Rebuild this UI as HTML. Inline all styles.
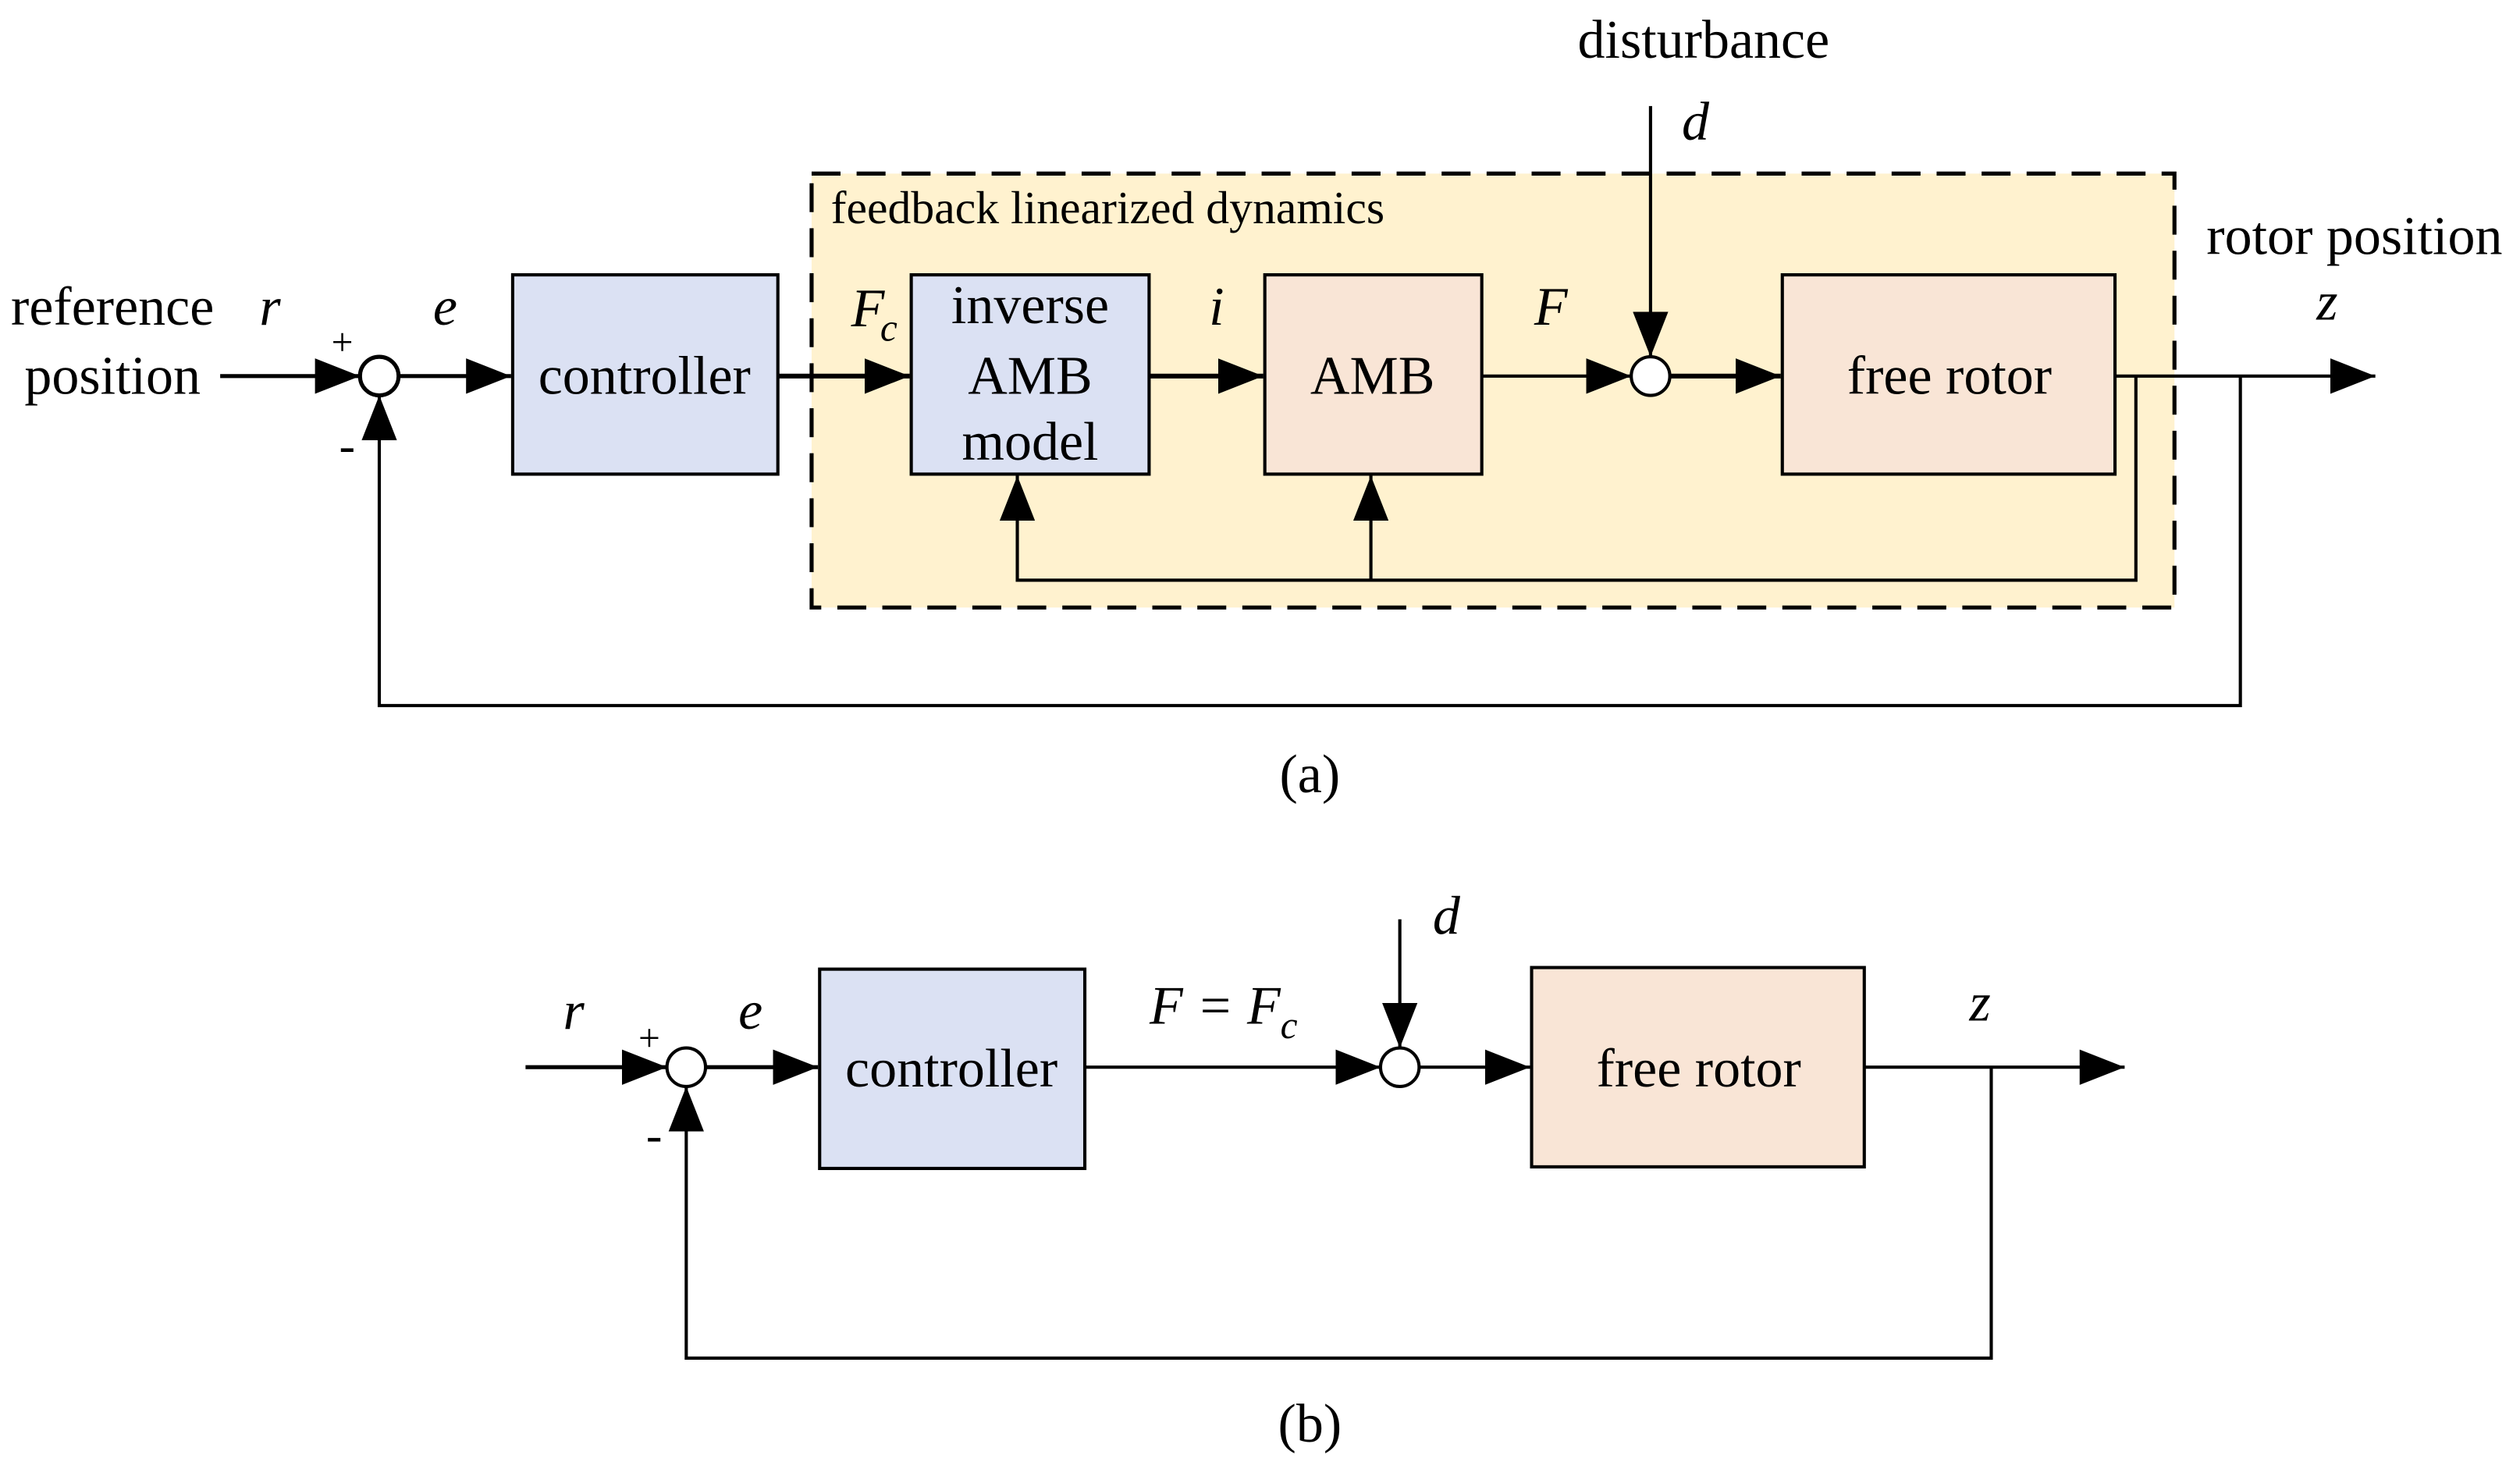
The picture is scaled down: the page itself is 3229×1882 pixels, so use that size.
<!DOCTYPE html>
<html><head><meta charset="utf-8"><style>
html,body{margin:0;padding:0;background:#fff;width:3229px;height:1882px;overflow:hidden}
svg{display:block}
text{font-family:"Liberation Serif",serif;fill:#000}
.i{font-style:italic}
</style></head><body>
<svg width="3229" height="1882" viewBox="0 0 1568 914" preserveAspectRatio="none">
<defs>
<marker id="a" viewBox="0 0 28 22" refX="28" refY="11" markerWidth="28" markerHeight="22" markerUnits="userSpaceOnUse" orient="auto-start-reverse"><path d="M0,0 L28,11 L0,22z" fill="#000"/></marker>
</defs>
<g font-size="34" text-anchor="middle">
<!-- (a) -->
<rect x="505" y="108" width="848" height="270" fill="#fff2cf" stroke="#000" stroke-width="2.5" stroke-dasharray="18,10"/>
<text x="517" y="139" font-size="29" text-anchor="start">feedback linearized dynamics</text>
<text x="70" y="202">reference</text>
<text x="70" y="245">position</text>
<text class="i" x="168" y="202">r</text>
<text class="i" x="277" y="202">e</text>
<text x="213" y="221" font-size="24">+</text>
<text x="216" y="287" font-size="30">-</text>
<rect x="319" y="171" width="165" height="124" fill="#dbe1f3" stroke="#000" stroke-width="2"/>
<text x="401" y="245">controller</text>
<text class="i" x="540" y="203">F</text><text class="i" x="553" y="212" font-size="24">c</text>
<rect x="567" y="171" width="148" height="124" fill="#dbe1f3" stroke="#000" stroke-width="2"/>
<text x="641" y="201">inverse</text>
<text x="641" y="245">AMB</text>
<text x="641" y="286">model</text>
<text class="i" x="757" y="202">i</text>
<rect x="787" y="171" width="135" height="124" fill="#f9e5d6" stroke="#000" stroke-width="2"/>
<text x="854" y="245">AMB</text>
<text class="i" x="965" y="202">F</text>
<rect x="1109" y="171" width="207" height="124" fill="#f9e5d6" stroke="#000" stroke-width="2"/>
<text x="1213" y="245">free rotor</text>
<text x="1060" y="36">disturbance</text>
<text class="i" x="1055" y="87">d</text>
<text x="1465" y="158">rotor position</text>
<text class="i" x="1448" y="199">z</text>
<g stroke="#000" stroke-width="2.5" fill="none">
<line x1="137" y1="234" x2="224" y2="234" marker-end="url(#a)"/>
<circle cx="236" cy="234" r="12" fill="#fff"/>
<line x1="248" y1="234" x2="318" y2="234" marker-end="url(#a)"/>
<line x1="484" y1="234" x2="566" y2="234" marker-end="url(#a)" stroke-width="3"/>
<line x1="715" y1="234" x2="786" y2="234" marker-end="url(#a)" stroke-width="3"/>
<line x1="922" y1="234" x2="1015" y2="234" marker-end="url(#a)" stroke-width="2"/>
<circle cx="1027" cy="234" r="12" fill="#fff" stroke-width="2"/>
<line x1="1039" y1="234" x2="1108" y2="234" marker-end="url(#a)" stroke-width="3"/>
<line x1="1027" y1="66" x2="1027" y2="222" marker-end="url(#a)" stroke-width="2"/>
<line x1="1316" y1="234" x2="1478" y2="234" marker-end="url(#a)" stroke-width="2"/>
<polyline points="1329,234 1329,361 633,361 633,296" marker-end="url(#a)" stroke-width="2"/>
<line x1="853" y1="361" x2="853" y2="296" marker-end="url(#a)" stroke-width="2"/>
<polyline points="1394,234 1394,439 236,439 236,246" marker-end="url(#a)" stroke-width="2"/>
</g>
<text x="815" y="493">(a)</text>
<!-- (b) -->
<text class="i" x="357" y="640">r</text>
<text class="i" x="467" y="640">e</text>
<text x="404" y="654" font-size="24">+</text>
<text x="407" y="716" font-size="30">-</text>
<rect x="510" y="603" width="165" height="124" fill="#dbe1f3" stroke="#000" stroke-width="2"/>
<text x="592" y="676">controller</text>
<text class="i" x="756" y="637">F = F</text><text class="i" x="802" y="646" font-size="24">c</text>
<text class="i" x="900" y="581">d</text>
<rect x="953" y="602" width="207" height="124" fill="#f9e5d6" stroke="#000" stroke-width="2"/>
<text x="1057" y="676">free rotor</text>
<text class="i" x="1232" y="635">z</text>
<g stroke="#000" stroke-width="2.5" fill="none">
<line x1="327" y1="664" x2="415" y2="664" marker-end="url(#a)"/>
<circle cx="427" cy="664" r="12" fill="#fff" stroke-width="2"/>
<line x1="439" y1="664" x2="509" y2="664" marker-end="url(#a)"/>
<line x1="675" y1="664" x2="859" y2="664" marker-end="url(#a)" stroke-width="2"/>
<circle cx="871" cy="664" r="12" fill="#fff" stroke-width="2"/>
<line x1="883" y1="664" x2="952" y2="664" marker-end="url(#a)" stroke-width="2"/>
<line x1="871" y1="572" x2="871" y2="652" marker-end="url(#a)" stroke-width="2"/>
<line x1="1160" y1="664" x2="1322" y2="664" marker-end="url(#a)" stroke-width="2"/>
<polyline points="1239,664 1239,845 427,845 427,676" marker-end="url(#a)" stroke-width="2"/>
</g>
<text x="815" y="897">(b)</text>
</g>
</svg>
</body></html>
